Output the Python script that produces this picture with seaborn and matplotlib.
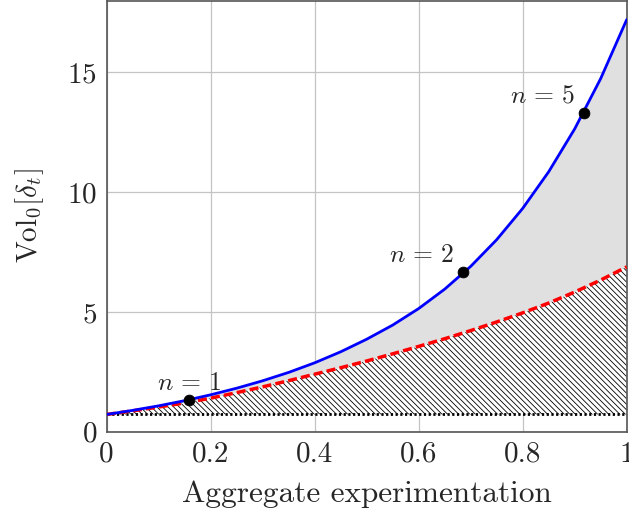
import numpy as np
import pandas as pd
import matplotlib
matplotlib.use("Agg")
import matplotlib.pyplot as plt
import seaborn as sns

# values
x_vals = [0.0, 0.05, 0.1, 0.15, 0.2, 0.25, 0.3, 0.35, 0.4, 0.45, 0.5,
          0.55, 0.6, 0.65, 0.7, 0.75, 0.8, 0.85, 0.9, 0.95, 1.0]
upper_vals = [0.72, 0.89, 1.08, 1.295, 1.54, 1.815, 2.125, 2.475, 2.875, 3.335, 3.86,
              4.45, 5.14, 5.95, 6.90, 8.015, 9.32, 10.85, 12.64, 14.74, 17.2]
lower_vals = [0.72, 0.87, 1.03, 1.20, 1.40, 1.63, 1.87, 2.13, 2.40, 2.67, 2.95,
              3.25, 3.56, 3.88, 4.22, 4.58, 4.96, 5.37, 5.83, 6.33, 6.88]
floor_vals = [0.72] * len(x_vals)

point_x = [0.159, 0.685, 0.917]
point_y = [1.31, 6.66, 13.3]
point_labels = [r'$n\,=\,1$', r'$n\,=\,2$', r'$n\,=\,5$']

x_ticks = [0, 0.2, 0.4, 0.6, 0.8, 1]
x_ticklabels = ['0', '0.2', '0.4', '0.6', '0.8', '1']
y_ticks = [0, 5, 10, 15]

df = pd.DataFrame({'x': x_vals, 'upper': upper_vals,
                   'lower': lower_vals, 'floor': floor_vals})

sns.set_style('whitegrid')
plt.rcParams['font.family'] = 'serif'
plt.rcParams['font.serif'] = ['cmr10']
plt.rcParams['mathtext.fontset'] = 'cm'
plt.rcParams['axes.formatter.use_mathtext'] = True
plt.rcParams['hatch.linewidth'] = 0.6
plt.rcParams['hatch.color'] = 'black'

fig = plt.figure(figsize=(6.29, 5.16), dpi=100)
ax = fig.add_axes([0.1696, 0.1634, 0.8267, 0.8356])

# shaded regions
ax.fill_between(df['x'], df['lower'], df['upper'], color='#e0e0e0', lw=0, zorder=1)
ax.fill_between(df['x'], df['floor'], df['lower'], facecolor='white',
                edgecolor='black', hatch='\\\\\\\\\\\\', lw=0, zorder=1)

sns.lineplot(data=df, x='x', y='floor', color='black', lw=2.0,
             linestyle=(0, (0.8, 0.9)), ax=ax, zorder=3)
sns.lineplot(data=df, x='x', y='lower', color='red', lw=2.5,
             linestyle=(0, (2.6, 1.2)), ax=ax, zorder=4)
sns.lineplot(data=df, x='x', y='upper', color='blue', lw=2.0, ax=ax, zorder=5)
sns.scatterplot(x=point_x, y=point_y, color='black', s=60, edgecolor='black',
                ax=ax, zorder=6)

offsets = [(0, 4), (-6, 4), (-6, 4)]
aligns = ['center', 'right', 'right']
for px, py, lab, off, ha in zip(point_x, point_y, point_labels, offsets, aligns):
    ax.annotate(lab, (px, py), xytext=off, textcoords='offset points',
                ha=ha, va='bottom', fontsize=18.5)

ax.set_xlim(0, 1)
ax.set_ylim(0, 18)
ax.set_xticks(x_ticks)
ax.set_xticklabels(x_ticklabels)
ax.set_yticks(y_ticks)
ax.grid(True, color='#c4c4c4', lw=0.9)
ax.set_axisbelow(True)
ax.tick_params(direction='in', length=4, width=0.8, color='#555555',
               labelsize=21, pad=7)
for sp in ax.spines.values():
    sp.set_color('#555555')
    sp.set_linewidth(1.2)

ax.set_xlabel('Aggregate experimentation', fontsize=22.5, labelpad=9)
ax.set_ylabel(r'$\mathrm{Vol}_0[\delta_t]$', fontsize=21, labelpad=15)

fig.savefig('out.png', dpi=100)
